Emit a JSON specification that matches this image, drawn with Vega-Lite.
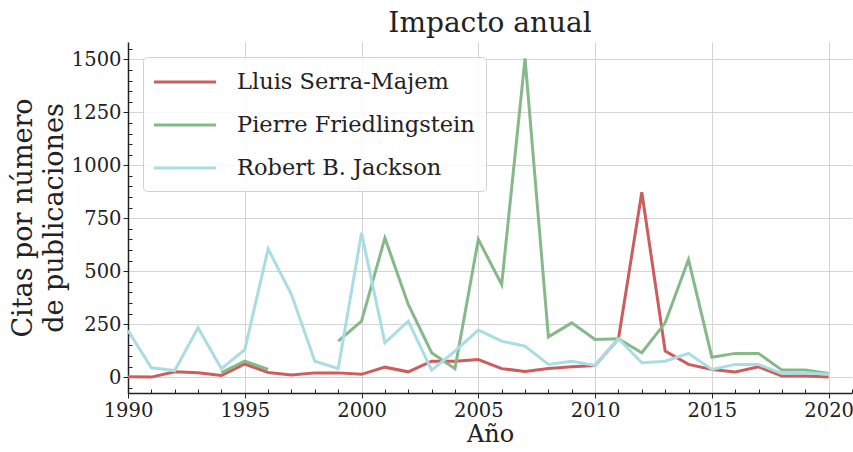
{
  "$schema": "https://vega.github.io/schema/vega-lite/v6.json",
  "autosize": {"type": "none"},
  "padding": {"left": 128, "top": 42, "right": 1, "bottom": 59},
  "width": 724,
  "height": 351,
  "background": "white",
  "title": {"text": "Impacto anual", "font": "DejaVu Serif", "fontSize": 28, "fontWeight": "normal", "color": "#222", "anchor": "middle", "offset": 1},
  "data": {"values": [
    {"year": 1990, "author": "Lluis Serra-Majem", "value": 2},
    {"year": 1991, "author": "Lluis Serra-Majem", "value": 0},
    {"year": 1992, "author": "Lluis Serra-Majem", "value": 25},
    {"year": 1993, "author": "Lluis Serra-Majem", "value": 21},
    {"year": 1994, "author": "Lluis Serra-Majem", "value": 8},
    {"year": 1995, "author": "Lluis Serra-Majem", "value": 62},
    {"year": 1996, "author": "Lluis Serra-Majem", "value": 22},
    {"year": 1997, "author": "Lluis Serra-Majem", "value": 10},
    {"year": 1998, "author": "Lluis Serra-Majem", "value": 20},
    {"year": 1999, "author": "Lluis Serra-Majem", "value": 20},
    {"year": 2000, "author": "Lluis Serra-Majem", "value": 13},
    {"year": 2001, "author": "Lluis Serra-Majem", "value": 47},
    {"year": 2002, "author": "Lluis Serra-Majem", "value": 25},
    {"year": 2003, "author": "Lluis Serra-Majem", "value": 75},
    {"year": 2004, "author": "Lluis Serra-Majem", "value": 75},
    {"year": 2005, "author": "Lluis Serra-Majem", "value": 83},
    {"year": 2006, "author": "Lluis Serra-Majem", "value": 40},
    {"year": 2007, "author": "Lluis Serra-Majem", "value": 27},
    {"year": 2008, "author": "Lluis Serra-Majem", "value": 41},
    {"year": 2009, "author": "Lluis Serra-Majem", "value": 49},
    {"year": 2010, "author": "Lluis Serra-Majem", "value": 55},
    {"year": 2011, "author": "Lluis Serra-Majem", "value": 181},
    {"year": 2012, "author": "Lluis Serra-Majem", "value": 873},
    {"year": 2013, "author": "Lluis Serra-Majem", "value": 123},
    {"year": 2014, "author": "Lluis Serra-Majem", "value": 60},
    {"year": 2015, "author": "Lluis Serra-Majem", "value": 36},
    {"year": 2016, "author": "Lluis Serra-Majem", "value": 24},
    {"year": 2017, "author": "Lluis Serra-Majem", "value": 49},
    {"year": 2018, "author": "Lluis Serra-Majem", "value": 5},
    {"year": 2019, "author": "Lluis Serra-Majem", "value": 5},
    {"year": 2020, "author": "Lluis Serra-Majem", "value": 0},
    {"year": 1994, "author": "Pierre Friedlingstein", "value": 21},
    {"year": 1995, "author": "Pierre Friedlingstein", "value": 76},
    {"year": 1996, "author": "Pierre Friedlingstein", "value": 36},
    {"year": 1997, "author": "Pierre Friedlingstein", "value": null},
    {"year": 1998, "author": "Pierre Friedlingstein", "value": null},
    {"year": 1999, "author": "Pierre Friedlingstein", "value": 170},
    {"year": 2000, "author": "Pierre Friedlingstein", "value": 264},
    {"year": 2001, "author": "Pierre Friedlingstein", "value": 657},
    {"year": 2002, "author": "Pierre Friedlingstein", "value": 343},
    {"year": 2003, "author": "Pierre Friedlingstein", "value": 115},
    {"year": 2004, "author": "Pierre Friedlingstein", "value": 40},
    {"year": 2005, "author": "Pierre Friedlingstein", "value": 650},
    {"year": 2006, "author": "Pierre Friedlingstein", "value": 437},
    {"year": 2007, "author": "Pierre Friedlingstein", "value": 1505},
    {"year": 2008, "author": "Pierre Friedlingstein", "value": 190},
    {"year": 2009, "author": "Pierre Friedlingstein", "value": 256},
    {"year": 2010, "author": "Pierre Friedlingstein", "value": 178},
    {"year": 2011, "author": "Pierre Friedlingstein", "value": 181},
    {"year": 2012, "author": "Pierre Friedlingstein", "value": 115},
    {"year": 2013, "author": "Pierre Friedlingstein", "value": 256},
    {"year": 2014, "author": "Pierre Friedlingstein", "value": 555},
    {"year": 2015, "author": "Pierre Friedlingstein", "value": 94},
    {"year": 2016, "author": "Pierre Friedlingstein", "value": 112},
    {"year": 2017, "author": "Pierre Friedlingstein", "value": 112},
    {"year": 2018, "author": "Pierre Friedlingstein", "value": 33},
    {"year": 2019, "author": "Pierre Friedlingstein", "value": 33},
    {"year": 2020, "author": "Pierre Friedlingstein", "value": 17},
    {"year": 1990, "author": "Robert B. Jackson", "value": 220},
    {"year": 1991, "author": "Robert B. Jackson", "value": 44},
    {"year": 1992, "author": "Robert B. Jackson", "value": 31},
    {"year": 1993, "author": "Robert B. Jackson", "value": 233},
    {"year": 1994, "author": "Robert B. Jackson", "value": 40},
    {"year": 1995, "author": "Robert B. Jackson", "value": 130},
    {"year": 1996, "author": "Robert B. Jackson", "value": 605},
    {"year": 1997, "author": "Robert B. Jackson", "value": 390},
    {"year": 1998, "author": "Robert B. Jackson", "value": 75},
    {"year": 1999, "author": "Robert B. Jackson", "value": 40},
    {"year": 2000, "author": "Robert B. Jackson", "value": 681},
    {"year": 2001, "author": "Robert B. Jackson", "value": 162},
    {"year": 2002, "author": "Robert B. Jackson", "value": 264},
    {"year": 2003, "author": "Robert B. Jackson", "value": 33},
    {"year": 2004, "author": "Robert B. Jackson", "value": 123},
    {"year": 2005, "author": "Robert B. Jackson", "value": 222},
    {"year": 2006, "author": "Robert B. Jackson", "value": 170},
    {"year": 2007, "author": "Robert B. Jackson", "value": 146},
    {"year": 2008, "author": "Robert B. Jackson", "value": 60},
    {"year": 2009, "author": "Robert B. Jackson", "value": 75},
    {"year": 2010, "author": "Robert B. Jackson", "value": 55},
    {"year": 2011, "author": "Robert B. Jackson", "value": 181},
    {"year": 2012, "author": "Robert B. Jackson", "value": 68},
    {"year": 2013, "author": "Robert B. Jackson", "value": 75},
    {"year": 2014, "author": "Robert B. Jackson", "value": 112},
    {"year": 2015, "author": "Robert B. Jackson", "value": 36},
    {"year": 2016, "author": "Robert B. Jackson", "value": 60},
    {"year": 2017, "author": "Robert B. Jackson", "value": 60},
    {"year": 2018, "author": "Robert B. Jackson", "value": 17},
    {"year": 2019, "author": "Robert B. Jackson", "value": 21},
    {"year": 2020, "author": "Robert B. Jackson", "value": 13}
  ]},
  "mark": {"type": "line", "strokeWidth": 3, "invalid": "break-paths-show-domains"},
  "encoding": {
    "x": {
      "field": "year", "type": "quantitative",
      "scale": {"domain": [1990, 2021], "nice": false, "zero": false},
      "axis": {
        "title": "Año",
        "titleFontSize": 24,
        "values": [1990,1991,1992,1993,1994,1995,1996,1997,1998,1999,2000,2001,2002,2003,2004,2005,2006,2007,2008,2009,2010,2011,2012,2013,2014,2015,2016,2017,2018,2019,2020,2021],
        "format": "d",
        "labelExpr": "datum.value % 5 === 0 ? datum.label : ''",
        "gridOpacity": {"condition": {"test": "datum.value % 5 === 0", "value": 1}, "value": 0},
        "tickSize": {"condition": {"test": "datum.value % 5 === 0", "value": 5}, "value": -4},
        "labelPadding": 3,
        "titlePadding": 3
      }
    },
    "y": {
      "field": "value", "type": "quantitative",
      "scale": {"domain": [-75, 1582], "nice": false, "zero": false},
      "axis": {
        "title": ["Citas por número", "de publicaciones"],
        "titleFontSize": 27,
        "values": [-50,0,50,100,150,200,250,300,350,400,450,500,550,600,650,700,750,800,850,900,950,1000,1050,1100,1150,1200,1250,1300,1350,1400,1450,1500,1550],
        "labelExpr": "datum.value % 250 === 0 ? datum.label : ''",
        "format": "d",
        "gridOpacity": {"condition": {"test": "datum.value % 250 === 0", "value": 1}, "value": 0},
        "tickSize": {"condition": {"test": "datum.value % 250 === 0", "value": 5}, "value": -4},
        "labelPadding": 2,
        "titlePadding": 3,
        "titleLineHeight": 31
      }
    },
    "color": {
      "field": "author", "type": "nominal",
      "scale": {"domain": ["Lluis Serra-Majem", "Pierre Friedlingstein", "Robert B. Jackson"], "range": ["#cd5c5c", "#86b98a", "#a9dde3"]},
      "legend": {
        "title": null,
        "orient": "top-left",
        "offset": 15,
        "symbolType": "M-2.5,0H2.5",
        "symbolSize": 615,
        "symbolStrokeWidth": 3,
        "symbolOffset": 17,
        "labelOffset": 38,
        "rowPadding": 17,
        "padding": 11,
        "fillColor": "rgba(255,255,255,0.85)",
        "strokeColor": "#d0d0d0",
        "cornerRadius": 4,
        "labelFont": "DejaVu Serif",
        "labelFontSize": 22.5,
        "labelColor": "#222",
        "labelLimit": 0
      }
    }
  },
  "config": {
    "view": {"stroke": null},
    "font": "DejaVu Serif",
    "axis": {
      "labelFont": "DejaVu Serif",
      "labelFontSize": 19.5,
      "labelColor": "#222",
      "titleFont": "DejaVu Serif",
      "titleFontSize": 23,
      "titleFontWeight": "normal",
      "titleColor": "#222",
      "domainColor": "#222",
      "domainWidth": 1.5,
      "tickColor": "#222",
      "tickWidth": 1,
      "gridColor": "#d4d4d4",
      "gridWidth": 1,
      "labelFlush": false,
      "labelOverlap": false
    }
  }
}
